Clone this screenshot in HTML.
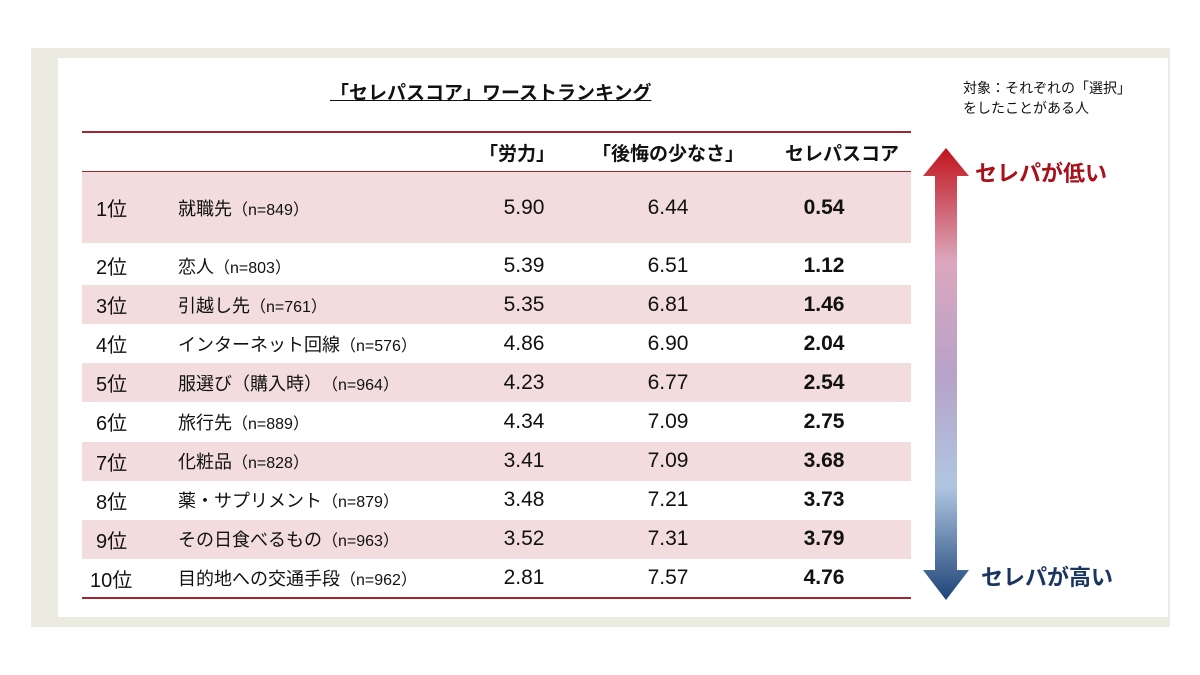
<!DOCTYPE html>
<html><head><meta charset="utf-8">
<style>
body{margin:0;width:1200px;height:675px;background:#fff;position:relative;overflow:hidden;font-family:"Liberation Sans","Noto Sans CJK JP",sans-serif;color:#111}
.abs{position:absolute}
#frame{left:31px;top:48px;width:1139px;height:579px;background:#ecebe2}
#inner{left:58px;top:58px;width:1110px;height:559px;background:#fff}
.row{position:absolute;left:82px;width:829px}
.cell{position:absolute;top:0;height:100%;display:flex;align-items:center;white-space:nowrap}
.rank{left:14px;font-size:20px}
.lbl{left:96px;font-size:18px}
.lbl small{font-size:16px}
.v{justify-content:center;width:120px;font-size:21px}
.v1{left:382px}.v2{left:526px}.v3{left:682px;font-weight:bold}
.hline{position:absolute;left:82px;width:829px;height:2px;background:#a3262c}
</style></head><body>
<div id="frame" class="abs"></div>
<div id="inner" class="abs"></div>
<div class="abs" style="left:330px;top:78px;font-size:19px;font-weight:bold;text-decoration:underline">「セレパスコア」ワーストランキング</div>
<div class="abs" style="left:963px;top:78px;font-size:14px;line-height:20px">対象：それぞれの「選択」<br>をしたことがある人</div>
<div class="hline" style="top:131px"></div>
<div class="hline" style="top:171px"></div>
<div class="row" style="top:133px;height:38px">
<div class="cell v v1" style="font-weight:bold;font-size:19px;left:375px">「労力」</div>
<div class="cell v v2" style="font-weight:bold;font-size:19px;width:170px;left:501px">「後悔の少なさ」</div>
<div class="cell v" style="font-weight:bold;font-size:19px;left:690px;width:140px">セレパスコア</div>
</div>
<div id="rows"></div>
<div class="hline" style="top:597px"></div>
<svg class="abs" style="left:915px;top:140px" width="70" height="465">
<defs><linearGradient id="g" x1="0" y1="0" x2="0" y2="1">
<stop offset="0" stop-color="#c0141c"/><stop offset="0.25" stop-color="#dca7bd"/><stop offset="0.5" stop-color="#b7a2c9"/><stop offset="0.75" stop-color="#afc6e1"/><stop offset="1" stop-color="#1e4478"/></linearGradient></defs>
<polygon points="31,8 8,36 20,36 20,430 8,430 31,460 54,430 42,430 42,36 54,36" fill="url(#g)"/>
</svg>
<div class="abs" style="left:975px;top:156px;font-size:22px;font-weight:bold;color:#a8101a">セレパが低い</div>
<div class="abs" style="left:981px;top:560px;font-size:22px;font-weight:bold;color:#1a3560">セレパが高い</div>
<script>
const ranks=["1位","2位","3位","4位","5位","6位","7位","8位","9位","10位"];
const items=["就職先","恋人","引越し先","インターネット回線","服選び（購入時）","旅行先","化粧品","薬・サプリメント","その日食べるもの","目的地への交通手段"];
const ns=["849","803","761","576","964","889","828","879","963","962"];
const effort=[5.90,5.39,5.35,4.86,4.23,4.34,3.41,3.48,3.52,2.81];
const regret=[6.44,6.51,6.81,6.90,6.77,7.09,7.09,7.21,7.31,7.57];
const score=[0.54,1.12,1.46,2.04,2.54,2.75,3.68,3.73,3.79,4.76];
const host=document.getElementById('rows');
for(let i=0;i<ranks.length;i++){
  const top=i==0?172:246+(i-1)*39.1, h=i==0?71:39.1;
  const r=document.createElement('div');
  r.className='row';
  
  
  r.style.top=top+'px';r.style.height=h+'px';
  if(i%2==0)r.style.background='#f2dcdd';
  r.innerHTML=`<div class="cell rank" style="${i==9?'left:8px':''}">${ranks[i]}</div><div class="cell lbl">${items[i]}<small>（n=${ns[i]}）</small></div><div class="cell v v1">${effort[i].toFixed(2)}</div><div class="cell v v2">${regret[i].toFixed(2)}</div><div class="cell v v3">${score[i].toFixed(2)}</div>`;
  host.appendChild(r);
}
</script>
</body></html>
